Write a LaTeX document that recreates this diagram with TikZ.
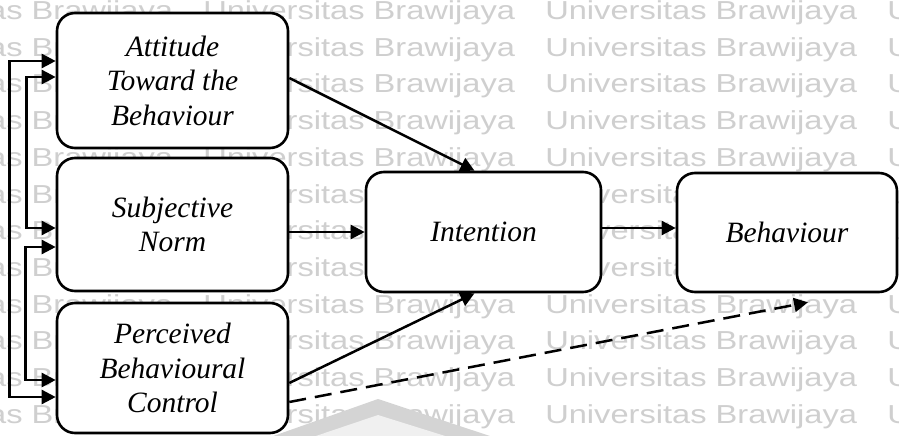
\documentclass[tikz,border=0pt]{standalone}
\usepackage{fontspec}
\setmainfont{Liberation Serif}
\newfontfamily\wmfont{Liberation Sans}
\usetikzlibrary{arrows.meta}

\begin{document}
\begin{tikzpicture}[x=1pt,y=-1pt,
  box/.style={draw=black, line width=2.6pt, rounded corners=18pt, fill=white,
    align=center, inner sep=0pt, font=\fontsize{29.5}{34.5}\selectfont\itshape},
  link/.style={line width=2.5pt, -{Triangle[length=14pt,width=14pt]}},
  twoway/.style={line width=2.5pt, {Triangle[length=14pt,width=14pt]}-{Triangle[length=14pt,width=14pt]}},
  hunch/.style={link, dash pattern=on 17pt off 9pt},
  wm/.style={font=\wmfont\fontsize{26}{26}\selectfont, text=black!19,
    inner sep=0pt, anchor=base west, xscale=1.255}
]
\useasboundingbox (0,0) rectangle (899,436);
\fill[white] (0,0) rectangle (899,436);

% background lettering
\foreach \r in {0,...,11}
  \foreach \c in {-2,-1,0,1}
    \node[wm] at ({545+342*\c},{19.5+36.7*\r}) {Universitas Brawijaya};

% faint roof emblem at the bottom
\fill[black!17] (262,440) -- (378,399) -- (502,440) -- cycle;
\fill[black!6] (304,440) -- (378,415) -- (458,440) -- cycle;

% constructs
\node[box, minimum width=231pt, minimum height=135pt] (att) at (172.5,80.5)
  {Attitude\\Toward the\\Behaviour};
\node[box, minimum width=231pt, minimum height=133pt] (sub) at (172.5,224.5)
  {Subjective\\Norm};
\node[box, minimum width=231pt, minimum height=130pt] (pbc) at (172.5,368)
  {Perceived\\Behavioural\\Control};
\node[box, minimum width=235pt, minimum height=120pt] (int) at (483.5,232)
  {Intention};
\node[box, minimum width=220pt, minimum height=119pt] (beh) at (787,232.5)
  {Behaviour};

% paths of influence
\draw[link] ([yshift=2.5pt]att.east) -- ([xshift=-9pt]int.north);
\draw[link] (sub.east |- int.west) -- (int.west);
\draw[link] ([yshift=-15pt]pbc.east) -- ([xshift=-9pt]int.south);
\draw[link] ([yshift=4pt]int.east) -- ([yshift=4pt]int.east -| beh.west);
\draw[hunch] ([yshift=-34pt]pbc.east) -- ([xshift=21pt,yshift=-9pt]beh.south);

% correlations among the antecedents
\draw[twoway] ([yshift=19.5pt]att.west) -- ++(-46pt,0) |- ([yshift=-29pt]pbc.west);
\draw[twoway] ([yshift=3.5pt]att.west) -- ++(-29pt,0) |- ([yshift=-3.5pt]sub.west);
\draw[twoway] ([yshift=-22.5pt]sub.west) -- ++(-30pt,0) |- ([yshift=-12pt]pbc.west);
\end{tikzpicture}
\end{document}
